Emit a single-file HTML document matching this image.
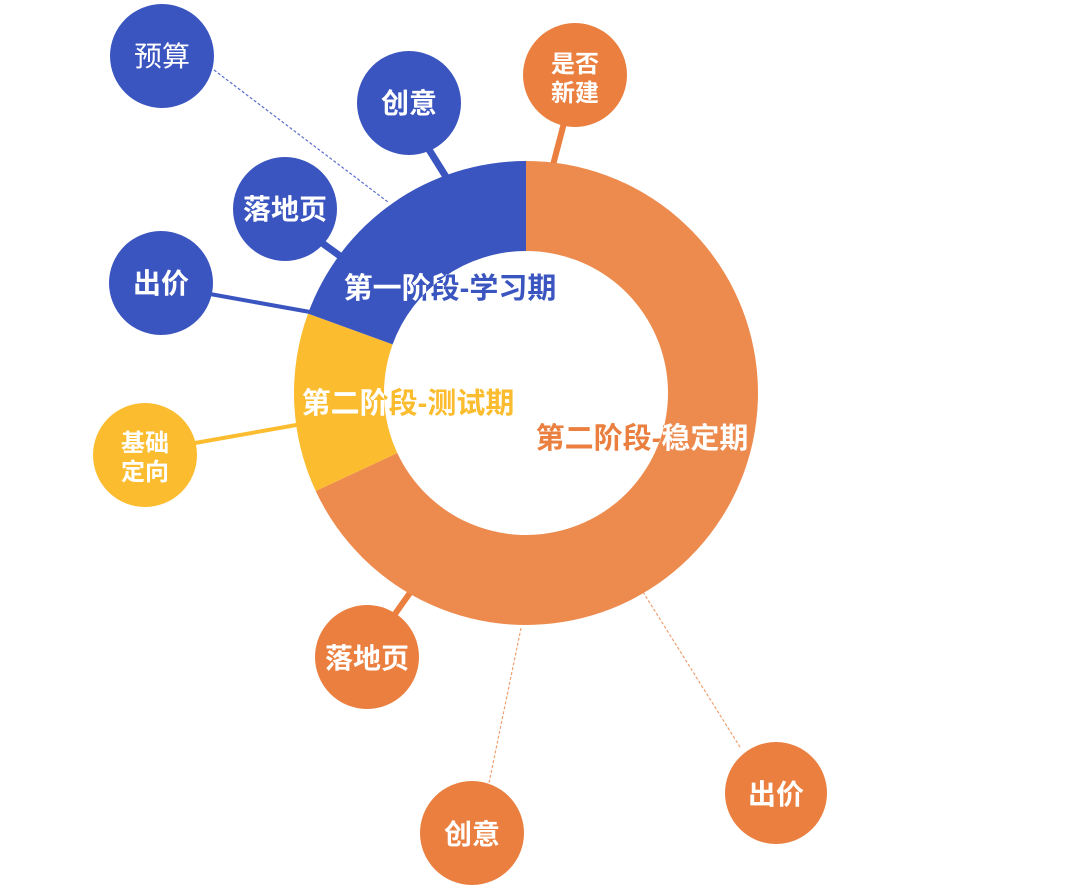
<!DOCTYPE html>
<html><head><meta charset="utf-8"><style>
html,body{margin:0;padding:0;background:#fff;width:1080px;height:885px;overflow:hidden}
svg text{font-family:"Liberation Sans","Noto Sans CJK SC",sans-serif;font-weight:bold}
</style></head><body>
<svg width="1080" height="885" viewBox="0 0 1080 885" xmlns="http://www.w3.org/2000/svg">
<defs>
<path id="po" d="M526 161 A232 232 0 1 1 315.7 491.0 L397.3 453.0 A142 142 0 1 0 526 251 Z"/>
<path id="py" d="M315.7 491.0 A232 232 0 0 1 308.0 313.6 L392.6 344.4 A142 142 0 0 0 397.3 453.0 Z"/>
<path id="pb" d="M308.0 313.6 A232 232 0 0 1 526 161 L526 251 A142 142 0 0 0 392.6 344.4 Z"/>
<clipPath id="co"><use href="#po"/></clipPath>
<clipPath id="cy"><use href="#py"/></clipPath>
<clipPath id="cb"><use href="#pb"/></clipPath>
</defs>
<line x1="214" y1="70" x2="388" y2="202" stroke="#5a6fd0" stroke-width="1.2" stroke-dasharray="3,2"/>
<line x1="521" y1="628" x2="489" y2="783" stroke="#f0a070" stroke-width="1.2" stroke-dasharray="3,2"/>
<line x1="643" y1="592" x2="740" y2="747" stroke="#f0a070" stroke-width="1.2" stroke-dasharray="3,2"/>
<line x1="428" y1="148" x2="448" y2="180" stroke="#3a55bf" stroke-width="7"/>
<line x1="318" y1="240" x2="340" y2="256" stroke="#3a55bf" stroke-width="7"/>
<line x1="210" y1="294" x2="310" y2="312" stroke="#3a55bf" stroke-width="4"/>
<line x1="195" y1="443" x2="302" y2="424" stroke="#fbbd2f" stroke-width="4"/>
<line x1="564" y1="123" x2="553" y2="165" stroke="#ea7f3f" stroke-width="6"/>
<line x1="395" y1="614" x2="412" y2="590" stroke="#ea7f3f" stroke-width="6"/>
<use href="#po" fill="#ed8b4e"/>
<use href="#py" fill="#fbbd2f"/>
<use href="#pb" fill="#3a55bf"/>
<g fill="#3a55bf">
<circle cx="162" cy="56" r="52"/><circle cx="409" cy="103" r="52"/>
<circle cx="285" cy="209" r="52"/><circle cx="161" cy="283" r="52"/>
</g>
<circle cx="145" cy="455" r="52" fill="#fbbd2f"/>
<g fill="#ea7f3f">
<circle cx="575" cy="75" r="52"/><circle cx="367" cy="657" r="52"/>
<circle cx="472" cy="833" r="52"/><circle cx="776" cy="793" r="51"/>
</g>
<g fill="#fff" font-size="28" text-anchor="middle">
<text x="162" y="66" style="font-weight:normal">预算</text>
<text x="409" y="113">创意</text>
<text x="285" y="219">落地页</text>
<text x="161" y="293">出价</text>
<text x="145" y="451" font-size="24">基础</text>
<text x="145" y="480" font-size="24">定向</text>
<text x="575" y="72" font-size="24">是否</text>
<text x="575" y="101" font-size="24">新建</text>
<text x="367" y="668">落地页</text>
<text x="472" y="844">创意</text>
<text x="776" y="804">出价</text>
</g>
<g font-size="29" text-anchor="middle">
<text x="450" y="298" fill="#3a55bf">第一阶段-学习期</text>
<text x="450" y="298" fill="#fff" clip-path="url(#cb)">第一阶段-学习期</text>
<text x="408" y="413" fill="#fbbd2f">第二阶段-测试期</text>
<text x="408" y="413" fill="#fff" clip-path="url(#cy)">第二阶段-测试期</text>
<text x="642" y="448" fill="#ea7f3f">第二阶段-稳定期</text>
<text x="642" y="448" fill="#fff" clip-path="url(#co)">第二阶段-稳定期</text>
</g>
</svg>
</body></html>
